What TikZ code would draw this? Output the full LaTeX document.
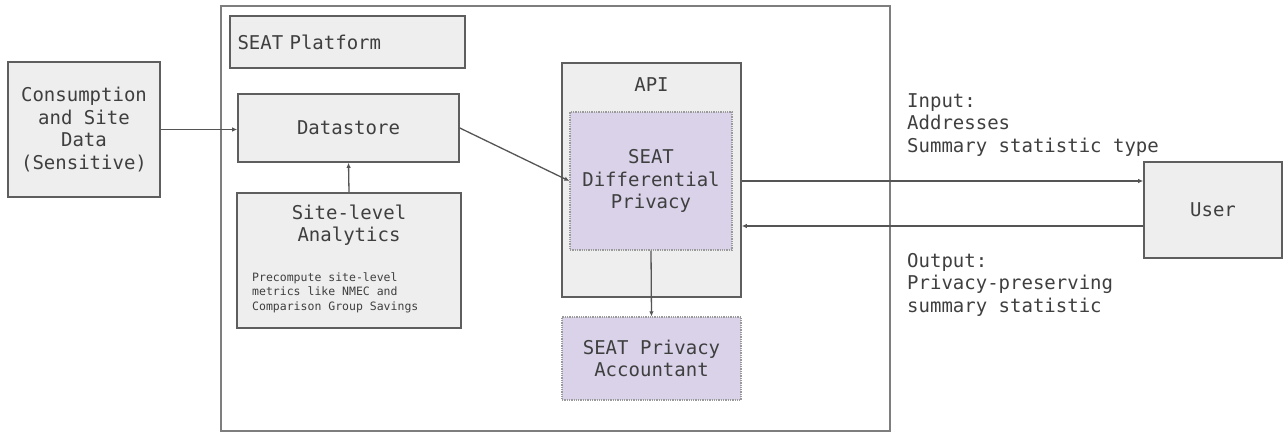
\documentclass[tikz,border=0pt]{standalone}
\usepackage{fontspec}
\setmonofont{DejaVu Sans Mono}
\usetikzlibrary{positioning}
\usetikzlibrary{arrows.meta}
\definecolor{boxfill}{HTML}{EEEEEE}
\definecolor{boxline}{HTML}{5E5E5E}
\definecolor{txtgray}{HTML}{3F3F3F}
\definecolor{dpfill}{HTML}{D9D2E9}
\definecolor{dotline}{HTML}{9A9A9A}
\newcommand{\bigmono}{\ttfamily\fontsize{19}{22.5}\selectfont}
\newcommand{\smallmono}{\ttfamily\fontsize{11.5}{14.5}\selectfont}
\tikzset{
	box/.style={draw=boxline, line width=1.6pt, fill=boxfill, text=txtgray,
		font=\bigmono, align=center, inner sep=0pt},
	dpbox/.style={draw=dotline, line width=1.3pt, densely dotted, fill=dpfill,
		text=txtgray, font=\bigmono, align=center, inner sep=0pt},
	lbl/.style={text=txtgray, font=\bigmono, inner sep=0pt},
	arr/.style={draw=boxline!90!black, line width=1.3pt, -{Latex[length=5pt,width=4.5pt]}}
}

\begin{document}
\begin{tikzpicture}[x=1pt,y=-1pt]
	\useasboundingbox (0,0) rectangle (1285,432);
	% outer platform frame
	\node[draw=boxline!80, line width=2.2pt, fill=white, minimum width=669pt,
		minimum height=425pt, inner sep=0pt] (platform) at (555.5,218.5){};
	\node[box, minimum width=235pt, minimum height=52pt, text width=220pt,
		align=left] (title) at (347.5,42){SEAT Platform};
	% left side
	\node[box, minimum width=152pt, minimum height=135pt] (cons) at (84,129.5)
		{Consumption\\and Site\\Data\\(Sensitive)};
	\node[box, minimum width=221pt, minimum height=68pt] (store) at (348.5,128){Datastore};
	\node[box, minimum width=224pt, minimum height=135pt] (analytics) at (349,260.5){};
	\node[lbl, align=center] (antitle) at (349,225){Site-level\\Analytics};
	\node[lbl, font=\smallmono, align=left, anchor=west] (andesc) at (252,292.5)
		{Precompute site-level\\metrics like NMEC and\\Comparison Group Savings};
	% api
	\node[box, minimum width=179pt, minimum height=234pt] (api) at (651.5,180){};
	\node[lbl] (apititle) at (651.5,85){API};
	\node[dpbox, minimum width=162pt, minimum height=138pt] (dp) at (651,181)
		{SEAT\\Differential\\Privacy};
	\node[dpbox, minimum width=179pt, minimum height=83pt] (acct) at (651.5,358.5)
		{SEAT Privacy\\Accountant};
	% user
	\node[box, minimum width=138pt, minimum height=96pt] (user) at (1213,210){User};
	\node[lbl, align=left, anchor=north west] (inlbl) at (907,93)
		{Input:\\Addresses\\Summary statistic type};
	\node[lbl, align=left, anchor=north west] (outlbl) at (907,253)
		{Output:\\Privacy-preserving\\summary statistic};
	\coordinate (inR) at ([yshift=29pt]user.west);
	\coordinate (outR) at ([yshift=-16pt]user.west);
	% connectors
	\draw[arr] (cons.east) -- (cons.east -| store.west);
	\draw[arr] (store.east) -- (dp.west);
	\draw[arr] (analytics.north) -- (store.south);
	\draw[arr] (dp.south) -- (acct.north);
	\draw[arr] (inR -| api.east) -- (inR);
	\draw[arr] (outR) -- (outR -| api.east);
\end{tikzpicture}
\end{document}
